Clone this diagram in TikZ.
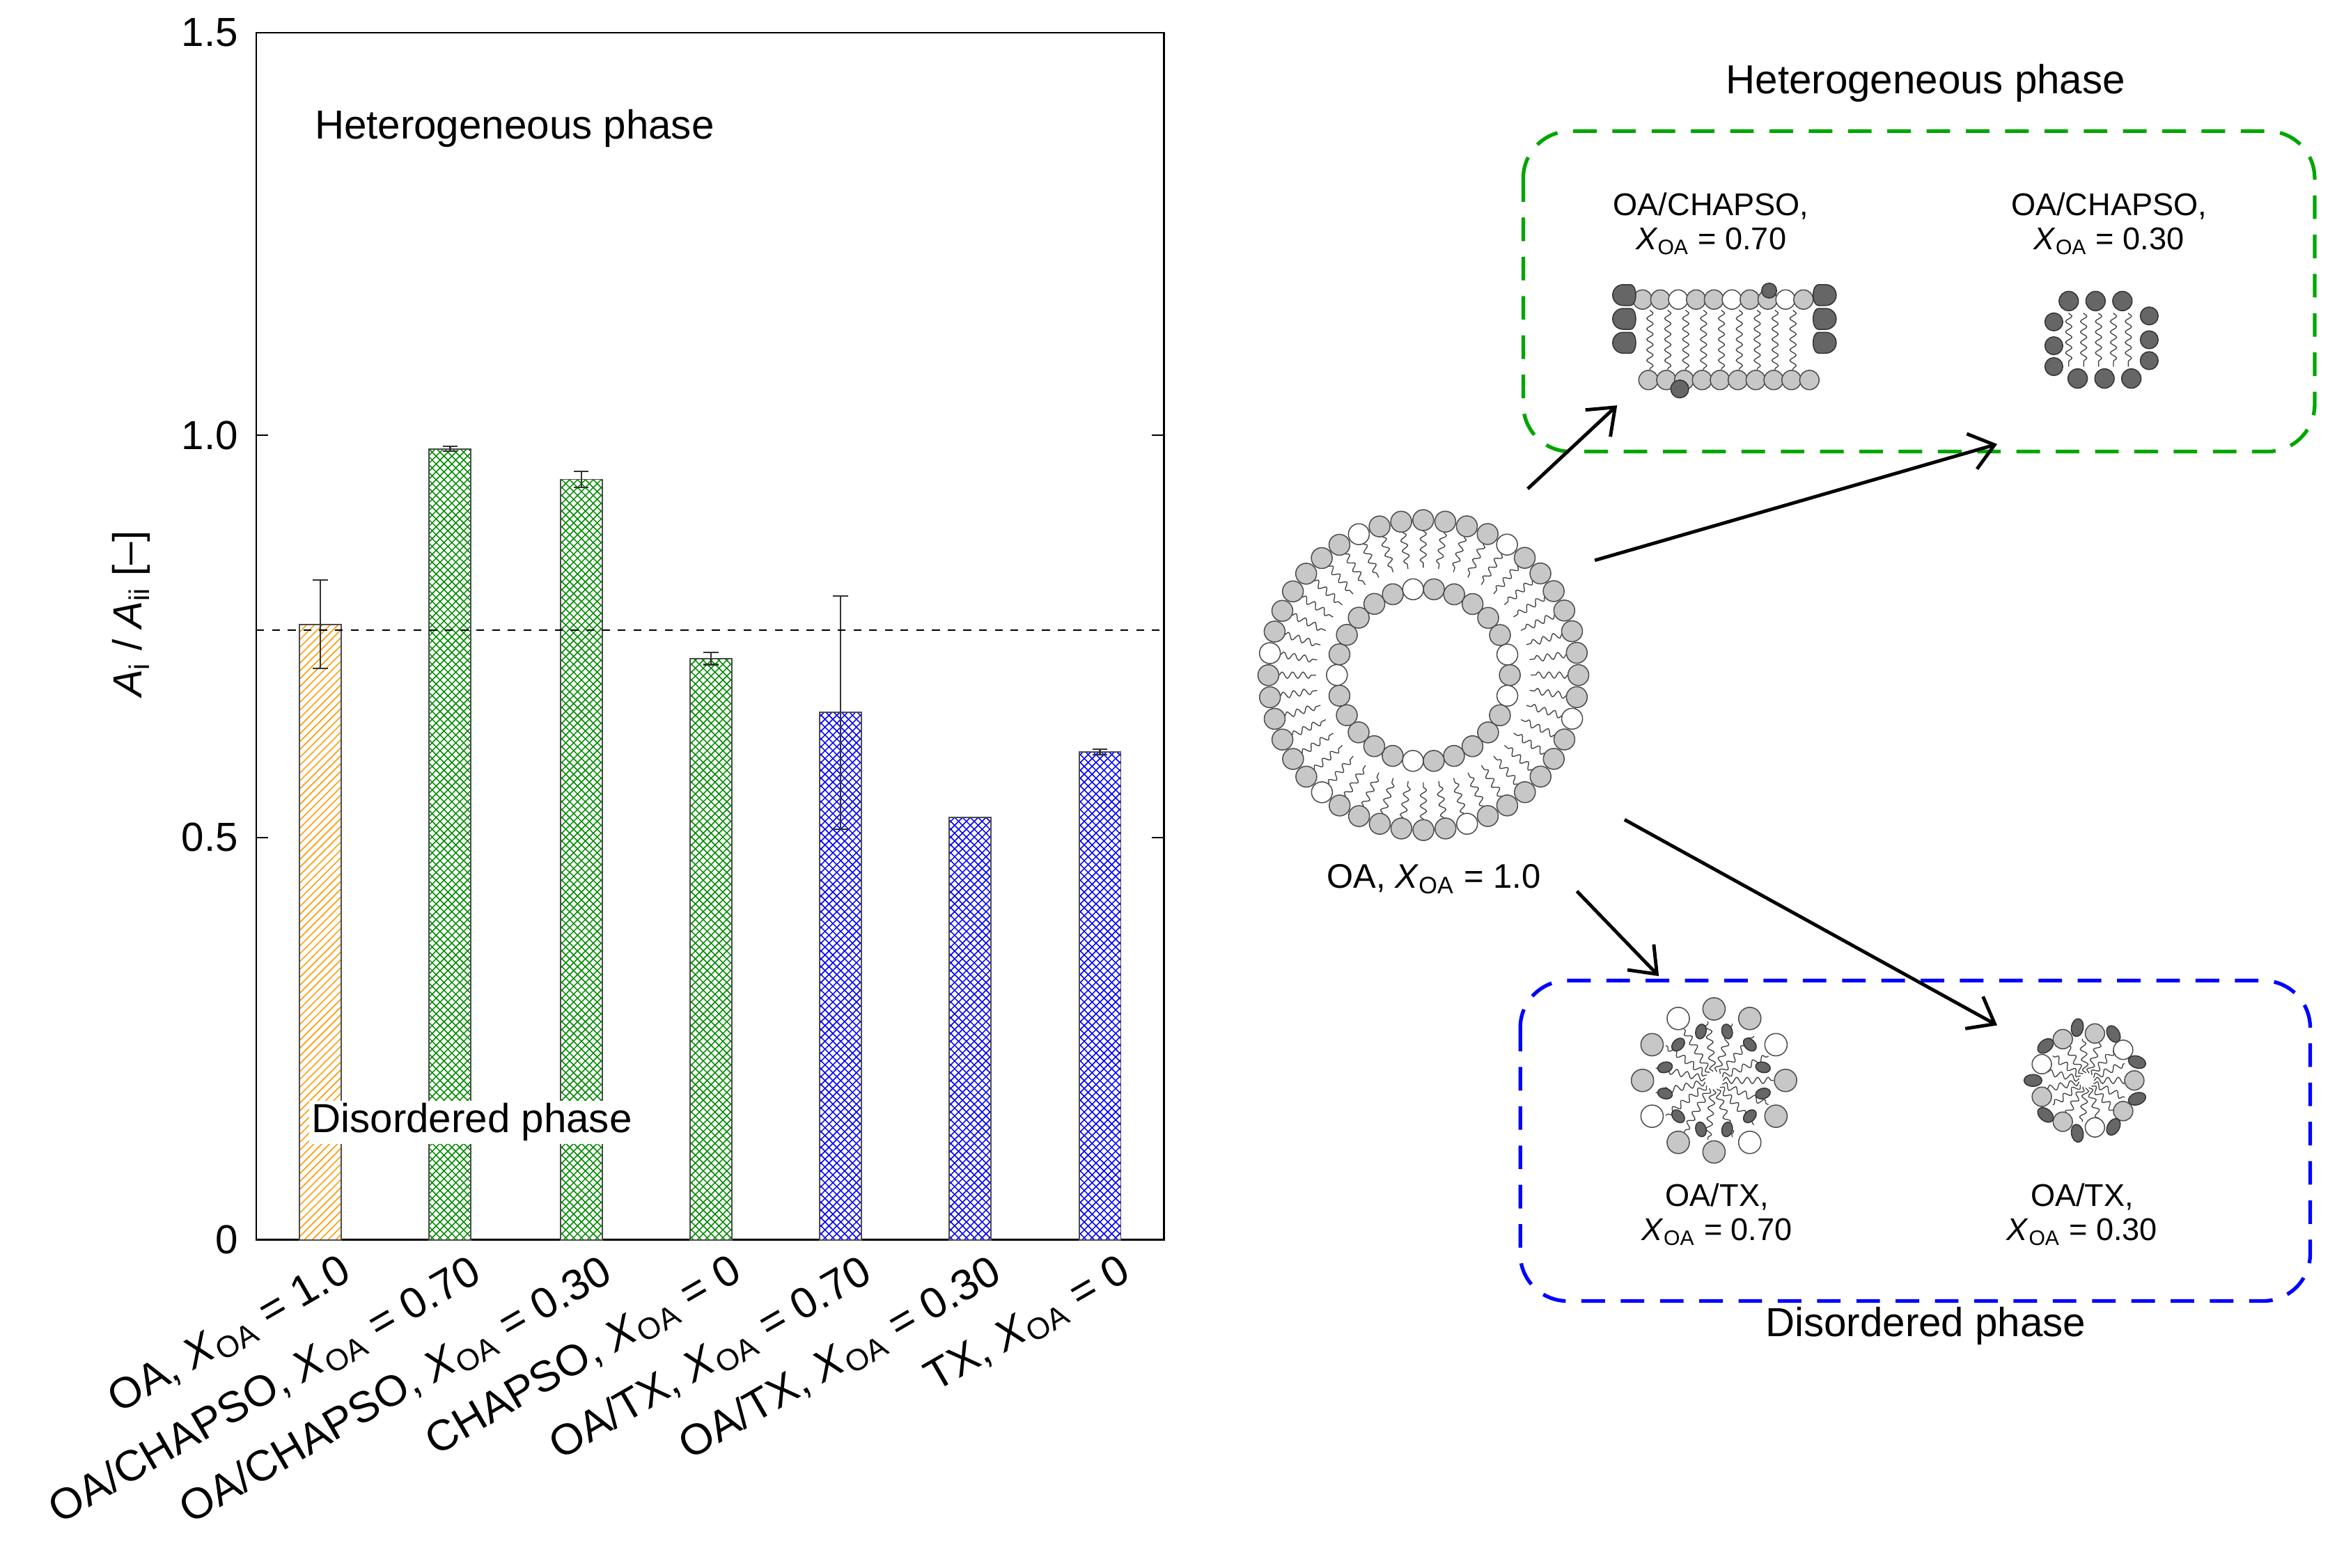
\documentclass[tikz,border=0pt]{standalone}
\usepackage{fontspec}
\setmainfont{Liberation Sans}
\usetikzlibrary{patterns,decorations.pathmorphing,arrows.meta}
\newcommand{\XOA}{\textit{X}\textsubscript{OA}}
\begin{document}
\begin{tikzpicture}[x=0.02cm,y=-0.02cm,
 big/.style={font=\fontsize{15.5}{17}\selectfont},
 small/.style={font=\fontsize{12}{13}\selectfont,align=center},
 bar/.style={draw=black!70,line width=0.5pt},
 err/.style={line width=0.6pt,black!80},
 arr/.style={line width=1.3pt,-{Straight Barb[length=9pt,width=14pt]}},
 lip/.style={draw=black!70,fill=black!22,line width=0.4pt},
 lipw/.style={draw=black!70,fill=white,line width=0.4pt},
 dk/.style={draw=black!80,fill=black!60,line width=0.4pt},
 tail/.style={black!75,line width=0.35pt,decorate,decoration={snake,amplitude=1.2pt,segment length=4pt}}]
\useasboundingbox (0,0) rectangle (1568,1052);
% axes
\draw[line width=0.7pt] (172,22) rectangle (781,832);
\foreach \v/\l in {0/0,0.5/0.5,1.0/1.0,1.5/1.5}{
 \pgfmathsetmacro{\yy}{832-540*\v}
 \draw (172,\yy) -- (180,\yy); \draw (781,\yy) -- (773,\yy);
 \node[big,anchor=east] (t\l) at (166,\yy) {\l};}
\node[big,rotate=90] (ylab) at (88,412) {\textit{A}\textsubscript{i} / \textit{A}\textsubscript{ii} [–]};
% bars
\def\bw{14}
\foreach \x/\h/\c/\p [count=\i] in {215/0.765/orange!80!yellow/north east lines,302/0.983/green!55!black/crosshatch,390/0.945/green!55!black/crosshatch,477/0.722/green!55!black/crosshatch,564/0.656/blue/crosshatch,651/0.525/blue/crosshatch,738/0.606/blue/crosshatch}{
 \pgfmathsetmacro{\yy}{832-540*\h}
 \fill[white] (\x-\bw,832) rectangle (\x+\bw,\yy);
 \fill[pattern=\p,pattern color=\c] (\x-\bw,832) rectangle (\x+\bw,\yy);
 \draw[bar] (\x-\bw,832) rectangle (\x+\bw,\yy);
 \coordinate (b\i) at (\x,\yy);}
\foreach \x/\lo/\hi in {215/0.71/0.82,302/0.98/0.986,390/0.935/0.955,477/0.715/0.73,564/0.51/0.80,738/0.603/0.61}{
 \pgfmathsetmacro{\ya}{832-540*\lo}\pgfmathsetmacro{\yb}{832-540*\hi}
 \draw[err] (\x,\ya) -- (\x,\yb) (\x-5,\ya) -- (\x+5,\ya) (\x-5,\yb) -- (\x+5,\yb);}
\draw[dashed,line width=0.6pt] (172,423) -- (781,423);
\node[big,anchor=west] (het) at (205,86) {Heterogeneous phase};
\node[big,anchor=west,fill=white,inner sep=1pt] (dis) at (207,753) {Disordered phase};
% x labels
\foreach \x/\t [count=\i] in {215/{OA, \XOA\ = 1.0},302/{OA/CHAPSO, \XOA\ = 0.70},390/{OA/CHAPSO, \XOA\ = 0.30},477/{CHAPSO, \XOA\ = 0},564/{OA/TX, \XOA\ = 0.70},651/{OA/TX, \XOA\ = 0.30},738/{TX, \XOA\ = 0}}
 \node[big,font=\fontsize{16.5}{18}\selectfont,anchor=north east,rotate=30,inner sep=0pt] (xl\i) at (\x+12,840) {\t};
% right: boxes
\draw[green!65!black,dashed,line width=1.4pt,dash pattern=on 9pt off 6pt,rounded corners=18pt] (1022,88) rectangle (1553,303);
\draw[blue,dashed,line width=1.4pt,dash pattern=on 9pt off 6pt,rounded corners=18pt] (1020,658) rectangle (1550,873);
\node[big] (h2) at (1292,56) {Heterogeneous phase};
\node[big] (d2) at (1292,890) {Disordered phase};
% big vesicle
\begin{scope}[shift={(955,453)}]
\foreach \a in {0,8.18,...,359}{
 \draw[tail] (\a:97) -- (\a:72);}
\foreach \a [count=\k] in {0,8.18,...,359}{
 \pgfmathparse{mod(\k,7)==3 ? "lipw" : "lip"}
 \path[\pgfmathresult] (\a:104) circle (7);}
\foreach \a [count=\k] in {0,13.85,...,359}{
 \pgfmathparse{mod(\k,6)==2 ? "lipw" : "lip"}
 \path[\pgfmathresult] (\a:58) circle (7);}
\end{scope}
\node[small,font=\fontsize{13}{14}\selectfont] (oa) at (962,590) {OA, \XOA\ = 1.0};
% CHAPSO 0.70 bilayer
\begin{scope}[shift={(1157,228)}]
\foreach \x in {-52,-40,...,52}{\draw[tail] (\x+2,-20) -- (\x+2,20);}
\foreach \x [count=\k] in {-55,-43,...,56}{
 \pgfmathparse{mod(\k,3)==0 ? "lipw" : "lip"}
 \path[\pgfmathresult] (\x,-27) circle (6.5);
 \path[lip] (\x+4,27) circle (6.5);}
\foreach \y in {-16,0,16}{\path[dk] (-68,\y) ++(0,-7) arc (90:270:7) -- ++(5,0) arc (-90:90:3.5 and 7) -- cycle;
 \path[dk] (68,\y) ++(0,-7) arc (90:-90:7) -- ++(-5,0) arc (270:90:3.5 and 7) -- cycle;}
\path[dk] (-30,33) circle (6); \path[dk] (30,-33) circle (5);
\end{scope}
\node[small] (c70) at (1148,150) {OA/CHAPSO,\\\XOA\ = 0.70};
% CHAPSO 0.30
\begin{scope}[shift={(1410,228)}]
\foreach \x in {-22,-12,...,22}{\draw[tail] (\x,-18) -- (\x,18);}
\foreach \x in {-22,-4,14}{\path[dk] (\x,-26) circle (6.5); \path[dk] (\x+6,26) circle (6.5);}
\foreach \y in {-12,4,18}{\path[dk] (-32,\y) circle (6); \path[dk] (32,\y-4) circle (6);}
\end{scope}
\node[small] (c30) at (1415,150) {OA/CHAPSO,\\\XOA\ = 0.30};
% TX micelles
\begin{scope}[shift={(1150,725)}]
\foreach \a in {0,24,...,359}{\draw[tail] (\a:6) -- (\a:40);}
\foreach \a [count=\k] in {0,30,...,359}{
 \pgfmathparse{mod(\k,3)==0 ? "lipw" : "lip"}
 \path[\pgfmathresult] (\a:48) circle (7.5);
 \pgfmathsetmacro{\b}{\a+15}
 \path[dk,shift={(\b:34)},rotate=\b] (0,0) ellipse (5 and 3.5);}
\end{scope}
\node[small] (t70) at (1152,815) {OA/TX,\\\XOA\ = 0.70};
\begin{scope}[shift={(1400,725)}]
\foreach \a in {0,24,...,359}{\draw[tail] (\a:5) -- (\a:28);}
\foreach \a [count=\k] in {0,40,...,359}{
 \pgfmathparse{mod(\k,3)==0 ? "lipw" : "lip"}
 \path[\pgfmathresult] (\a:32) circle (6.5);
 \pgfmathsetmacro{\b}{\a+20}
 \path[dk,shift={(\b:36)},rotate=\b] (0,0) ellipse (6 and 4);}
\end{scope}
\node[small] (t30) at (1397,815) {OA/TX,\\\XOA\ = 0.30};
% arrows
\coordinate (a1) at (1025,328); \coordinate (a1e) at (1085,272);
\coordinate (a2) at (1070,376); \coordinate (a2e) at (1340,298);
\coordinate (a3) at (1058,598); \coordinate (a3e) at (1113,655);
\coordinate (a4) at (1090,550); \coordinate (a4e) at (1340,688);
\draw[arr] (a1) -- (a1e); \draw[arr] (a2) -- (a2e);
\draw[arr] (a3) -- (a3e); \draw[arr] (a4) -- (a4e);
\end{tikzpicture}
\end{document}
